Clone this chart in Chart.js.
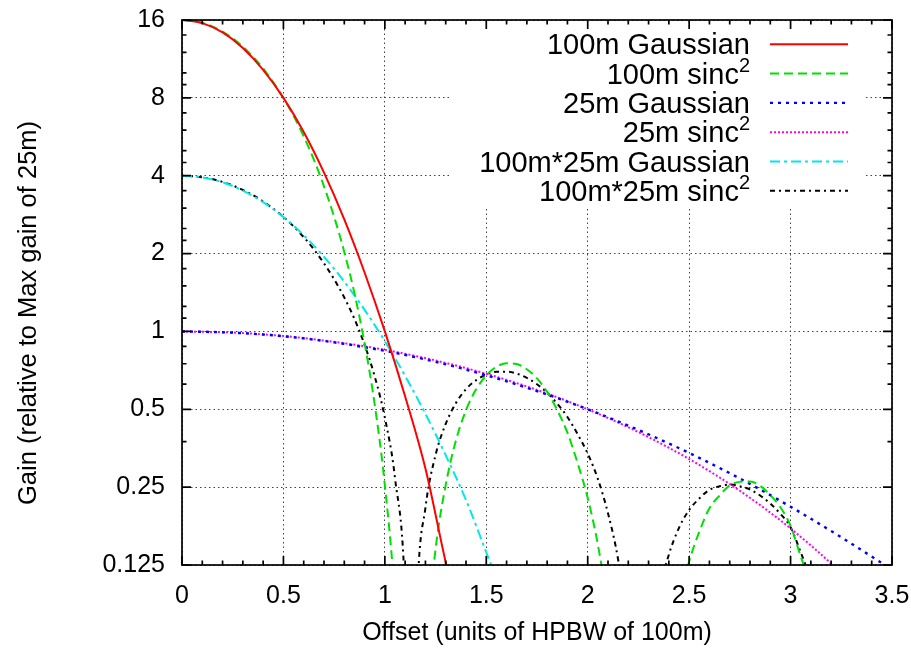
<!DOCTYPE html>
<html>
<head>
<meta charset="utf-8">
<title>Gain vs offset</title>
<script src="https://cdn.jsdelivr.net/npm/chart.js@4.4.1/dist/chart.umd.min.js"></script>
<style>
  html, body { margin: 0; padding: 0; background: #fff; }
  #wrap { width: 911px; height: 655px; position: relative; }
</style>
</head>
<body>
<div id="wrap"><canvas id="gainChart"></canvas></div>
<script>
// axis ticks
const xTicks = [0, 0.5, 1, 1.5, 2, 2.5, 3, 3.5];
const xTickLabels = ['0', '0.5', '1', '1.5', '2', '2.5', '3', '3.5'];
const xMinorTicks = [0.1, 0.2, 0.3, 0.4, 0.6, 0.7, 0.8, 0.9, 1.1, 1.2, 1.3, 1.4, 1.6, 1.7, 1.8, 1.9,
                     2.1, 2.2, 2.3, 2.4, 2.6, 2.7, 2.8, 2.9, 3.1, 3.2, 3.3, 3.4];
const yTicks = [0.125, 0.25, 0.5, 1, 2, 4, 8, 16];
const yTickLabels = ['0.125', '0.25', '0.5', '1', '2', '4', '8', '16'];
const yMinorTicks = [14, 12, 10, 9, 7, 6, 5, 4.5, 3.5, 3, 2.5, 2.25, 1.75, 1.5, 1.25, 1.125,
                     0.875, 0.75, 0.625, 0.375];

// 100m Gaussian
const gauss100X = [0, 0.1, 0.2, 0.3, 0.4, 0.5, 0.6, 0.7, 0.8, 0.9, 1.0, 1.1, 1.2, 1.3, 1.4];
const gauss100Y = [16, 15.56, 14.32, 12.47, 10.27, 8, 5.90, 4.11, 2.71, 1.69, 1.0, 0.56, 0.295, 0.128, 0.06];

// 100m sinc^2
const sinc100X = [0, 0.1, 0.2, 0.3, 0.4, 0.5, 0.55, 0.6, 0.65, 0.7, 0.75, 0.8, 0.85, 0.9, 0.95, 1.0,
                  1.05, 1.1, 1.13, 1.16, 1.2, 1.25, 1.3, 1.35, 1.4, 1.45, 1.5, 1.55, 1.6, 1.65, 1.7,
                  1.75, 1.8, 1.85, 1.9, 1.95, 2.0, 2.05, 2.1, 2.15, 2.2, 2.26, 2.3, 2.4, 2.45, 2.5,
                  2.55, 2.6, 2.65, 2.7, 2.75, 2.8, 2.85, 2.9, 2.95, 3.0, 3.05, 3.1, 3.15, 3.2];
const sinc100Y = [16, 15.59, 14.42, 12.61, 10.39, 8.0, 6.82, 5.68, 4.617, 3.64, 2.773, 2.03, 1.406, 0.90, 0.521, 0.254,
                  0.088, 0.011, 0.001, 0.0115, 0.055, 0.144, 0.255, 0.378, 0.496, 0.597, 0.676, 0.730, 0.753, 0.748, 0.714,
                  0.658, 0.584, 0.496, 0.406, 0.310, 0.227, 0.150, 0.085, 0.0387, 0.0108, 0.001, 0.0054, 0.053, 0.0895, 0.129,
                  0.168, 0.207, 0.232, 0.254, 0.262, 0.263, 0.253, 0.233, 0.209, 0.177, 0.135, 0.105, 0.078, 0.052];

// 25m Gaussian / sinc^2
const wide25X = [0, 0.25, 0.5, 0.75, 1.0, 1.25, 1.5, 1.75, 2.0, 2.25, 2.5, 2.75, 3.0, 3.25, 3.5];
const gauss25Y = [1, 0.989, 0.958, 0.907, 0.841, 0.763, 0.677, 0.588, 0.5, 0.416, 0.339, 0.270, 0.210, 0.160, 0.120];
const sinc25Y = [1, 0.990, 0.960, 0.912, 0.849, 0.772, 0.686, 0.594, 0.5, 0.408, 0.321, 0.242, 0.173, 0.116, 0.071];

// 100m*25m Gaussian
const gaussXX = [0, 0.1, 0.2, 0.3, 0.4, 0.5, 0.6, 0.7, 0.8, 0.9, 1.0, 1.1, 1.2, 1.3, 1.4, 1.5, 1.6];
const gaussXY = [4, 3.942, 3.771, 3.503, 3.160, 2.768, 2.355, 1.943, 1.558, 1.212, 0.917, 0.673, 0.480, 0.332, 0.223, 0.14, 0.088];

// 100m*25m sinc^2
const sincXX = [0, 0.1, 0.2, 0.3, 0.4, 0.5, 0.55, 0.6, 0.65, 0.7, 0.75, 0.8, 0.85, 0.9, 0.95, 1.0, 1.05, 1.1,
                1.13, 1.16, 1.2, 1.25, 1.3, 1.35, 1.4, 1.45, 1.5, 1.55, 1.6, 1.65, 1.7, 1.75, 1.8, 1.85, 1.9,
                1.95, 2.0, 2.05, 2.1, 2.15, 2.2, 2.26, 2.3, 2.35, 2.4, 2.45, 2.5, 2.55, 2.6, 2.65, 2.7, 2.75,
                2.8, 2.85, 2.9, 2.95, 3.0, 3.05, 3.1, 3.15, 3.2];
const sincXY = [4, 3.945, 3.785, 3.525, 3.182, 2.772, 2.548, 2.315, 2.076, 1.833, 1.591, 1.353, 1.118, 0.888, 0.670, 0.464, 0.271, 0.095,
                0.01, 0.096, 0.208, 0.333, 0.439, 0.528, 0.598, 0.648, 0.681, 0.698, 0.699, 0.687, 0.661, 0.625, 0.580, 0.525, 0.467,
                0.401, 0.337, 0.269, 0.198, 0.131, 0.068, 0.01, 0.046, 0.095, 0.137, 0.174, 0.204, 0.226, 0.244, 0.252, 0.256, 0.252,
                0.245, 0.232, 0.216, 0.197, 0.175, 0.14, 0.11, 0.085, 0.065];

const FONT = '"Liberation Sans", Helvetica, Arial, sans-serif';
const Y_TITLE = 'Gain (relative to Max gain of 25m)';

function pts(xs, ys) {
    if (xs.length !== ys.length) console.warn('length mismatch', xs.length, ys.length);
    return xs.map((x, i) => ({ x: x, y: ys[i] }));
}

function curve(label, xs, ys, color, dash, width) {
    return {
        label: label,
        data: pts(xs, ys),
        borderColor: color,
        borderDash: dash,
        borderWidth: width || 2,
        pointRadius: 0,
        fill: false,
        cubicInterpolationMode: 'monotone'
    };
}

// gnuplot-style key: right aligned text, line sample on the right, opaque box
const keyPlugin = {
    id: 'key',
    beforeDatasetsDraw(chart) {
        const ctx = chart.ctx;
        ctx.save();
        ctx.fillStyle = '#fff';
        ctx.fillRect(452, chart.chartArea.top + 1, 414, 185);
        ctx.restore();
    },
    afterDatasetsDraw(chart) {
        const ctx = chart.ctx;
        ctx.save();
        chart.data.datasets.forEach((ds, i) => {
            const y = 44.3 + i * 29.3;
            let text = ds.label, sup = '';
            if (text.endsWith('²')) { text = text.slice(0, -1); sup = '2'; }
            let right = 750;
            ctx.fillStyle = '#000';
            ctx.textAlign = 'right';
            ctx.textBaseline = 'alphabetic';
            if (sup) {
                ctx.font = '20px ' + FONT;
                ctx.fillText(sup, right, y - 2);
                right -= ctx.measureText(sup).width;
            }
            ctx.font = '29px ' + FONT;
            ctx.fillText(text, right, y + 10);

            ctx.beginPath();
            ctx.strokeStyle = ds.borderColor;
            ctx.lineWidth = ds.borderWidth;
            ctx.setLineDash(ds.borderDash || []);
            ctx.moveTo(770, y);
            ctx.lineTo(848, y);
            ctx.stroke();
        });
        ctx.restore();
    }
};

// border box with inward tick marks on all four sides, plus the y title
const framePlugin = {
    id: 'frame',
    afterDraw(chart) {
        const { ctx, chartArea: a, scales } = chart;
        const xs = scales.x, ys = scales.y;
        ctx.save();
        ctx.strokeStyle = '#000';
        ctx.lineWidth = 1.7;
        ctx.setLineDash([]);
        ctx.strokeRect(a.left, a.top, a.right - a.left, a.bottom - a.top);
        ctx.beginPath();
        const xMark = (v, len) => {
            const px = xs.getPixelForValue(v);
            ctx.moveTo(px, a.bottom); ctx.lineTo(px, a.bottom - len);
            ctx.moveTo(px, a.top); ctx.lineTo(px, a.top + len);
        };
        const yMark = (v, len) => {
            const py = ys.getPixelForValue(v);
            ctx.moveTo(a.left, py); ctx.lineTo(a.left + len, py);
            ctx.moveTo(a.right, py); ctx.lineTo(a.right - len, py);
        };
        xTicks.forEach(v => xMark(v, 9));
        xMinorTicks.forEach(v => xMark(v, 4.5));
        yTicks.forEach(v => yMark(v, 9));
        yMinorTicks.forEach(v => yMark(v, 4.5));
        ctx.stroke();

        ctx.translate(29, 313);
        ctx.rotate(-Math.PI / 2);
        ctx.font = '25.5px ' + FONT;
        ctx.fillStyle = '#000';
        ctx.textAlign = 'center';
        ctx.textBaseline = 'middle';
        ctx.fillText(Y_TITLE, 0, 0);
        ctx.restore();
    }
};

Chart.defaults.font.family = FONT;
Chart.defaults.color = '#000';

new Chart(document.getElementById('gainChart'), {
    type: 'line',
    data: {
        datasets: [
            curve('100m Gaussian', gauss100X, gauss100Y, '#ff0000', [], 2),
            curve('100m sinc²', sinc100X, sinc100Y, '#00e000', [9, 5], 2),
            curve('25m Gaussian', wide25X, gauss25Y, '#0000ff', [3, 5], 2.4),
            curve('25m sinc²', wide25X, sinc25Y, '#ff00ff', [2, 2], 2),
            curve('100m*25m Gaussian', gaussXX, gaussXY, '#00e8e8', [10, 4, 3, 4], 2),
            curve('100m*25m sinc²', sincXX, sincXY, '#000000', [5, 4, 2, 4], 2)
        ]
    },
    options: {
        responsive: true,
        maintainAspectRatio: false,
        animation: false,
        events: [],
        layout: { padding: { top: 20, right: 19, left: 0, bottom: 0 } },
        plugins: {
            legend: { display: false },
            tooltip: { enabled: false }
        },
        scales: {
            x: {
                type: 'linear',
                min: 0,
                max: 3.5,
                afterBuildTicks(scale) {
                    scale.ticks = xTicks.map(v => ({ value: v }));
                },
                afterFit(scale) {
                    scale.height = 90;
                    scale.paddingLeft = 0;
                    scale.paddingRight = 0;
                },
                ticks: {
                    autoSkip: false,
                    maxRotation: 0,
                    padding: 16,
                    font: { size: 25 },
                    callback: (v) => xTickLabels[xTicks.indexOf(v)]
                },
                grid: { color: '#444', lineWidth: 1, drawTicks: false },
                border: { display: false, dash: [1.5, 3] },
                title: {
                    display: true,
                    text: 'Offset (units of HPBW of 100m)',
                    font: { size: 25 },
                    padding: { top: 0, bottom: 7 }
                }
            },
            y: {
                type: 'logarithmic',
                min: 0.125,
                max: 16,
                afterBuildTicks(scale) {
                    scale.ticks = yTicks.map(v => ({ value: v }));
                },
                afterFit(scale) {
                    scale.width = 182;
                    scale.paddingTop = 0;
                    scale.paddingBottom = 0;
                },
                ticks: {
                    autoSkip: false,
                    padding: 17,
                    font: { size: 25 },
                    callback: (v) => yTickLabels[yTicks.indexOf(v)]
                },
                grid: { color: '#444', lineWidth: 1, drawTicks: false },
                border: { display: false, dash: [1.5, 3] }
            }
        }
    },
    plugins: [keyPlugin, framePlugin]
});
</script>
</body>
</html>
